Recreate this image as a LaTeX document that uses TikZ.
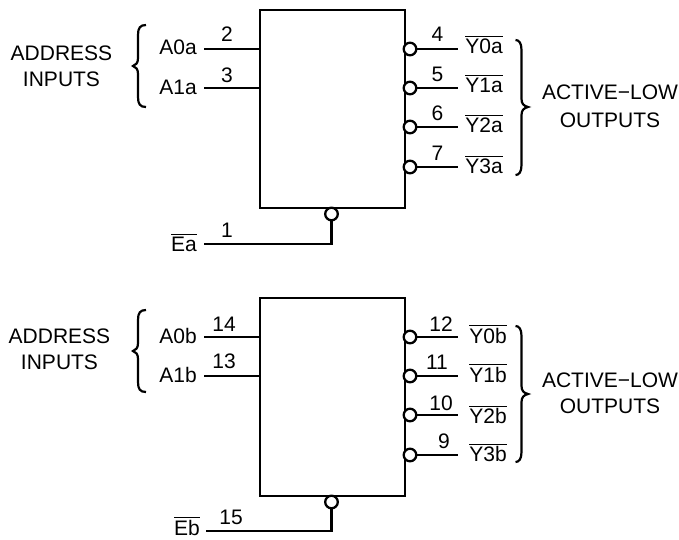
\documentclass[tikz,border=0pt]{standalone}
\usepackage{fontspec}
\setmainfont{Liberation Sans}
\newcommand\ovl[1]{\leavevmode\vbox{\hrule height 0.9pt\kern 1.6pt\hbox{#1}}}
\tikzset{
  x=1pt,y=-1pt,
  wire/.style={line width=2.3pt,line cap=butt,line join=miter},
  chip/.style={wire},
  bub/.style={circle,draw,line width=2.3pt,fill=white,minimum size=12.6pt,inner sep=0pt},
  txt/.style={font=\fontsize{21}{21}\selectfont,inner sep=0pt,anchor=base},
  nm/.style={font=\fontsize{21}{25}\selectfont,inner sep=0pt,anchor=base east},
  brc/.style={line width=2.2pt,line cap=butt}
}
\begin{document}
\begin{tikzpicture}
\useasboundingbox (0,0) rectangle (679,539);
% ----- unit a
\node[chip,draw,minimum width=145pt,minimum height=198pt,inner sep=0pt,anchor=north west] (ca) at (259,9) {};
\node[chip,draw,minimum width=145pt,minimum height=198pt,inner sep=0pt,anchor=north west] (cb) at (259,297) {};
% inputs a
\node[nm] (a0a) at (197,54) {A0a};
\node[nm] (a1a) at (197,94) {A1a};
\coordinate (p2) at (204,49); \coordinate (p3) at (204,88);
\draw[wire] (p2) -- (p2 -| ca.west);
\draw[wire] (p3) -- (p3 -| ca.west);
\node[txt] (n2) at (227,41) {2};
\node[txt] (n3) at (227,82) {3};
% enable a
\node[bub] (ea) at (331.5,214) {};
\node[nm] (lea) at (197,251) {\ovl{Ea}};
\coordinate (pea) at (204,244);
\draw[wire] (pea) -| (ea.south);
\node[txt] (n1) at (227,237) {1};
% outputs a
\foreach \nm/\lab/\y/\ny/\by in {4/Y0a/49/41/53.5, 5/Y1a/88/81/92, 6/Y2a/127/120.5/132.5, 7/Y3a/167/160/173}{
  \node[bub] (ba\nm) at (410,\y) {};
  \coordinate (ea\nm) at (458,\y);
  \draw[wire] (ba\nm) -- (ea\nm);
  \node[txt] (na\nm) at (437.5,\ny) {\nm};
  \node[nm,anchor=base] (la\nm) at (484,\by) {\ovl{\lab}};
}
% inputs b
\node[nm] (a0b) at (197,343) {A0b};
\node[nm] (a1b) at (197,382) {A1b};
\coordinate (p14) at (204,337); \coordinate (p13) at (204,376);
\draw[wire] (p14) -- (p14 -| cb.west);
\draw[wire] (p13) -- (p13 -| cb.west);
\node[txt] (n14) at (224,331) {14};
\node[txt] (n13) at (224,368) {13};
% enable b
\node[bub] (eb) at (331.5,502) {};
\node[nm] (leb) at (200,535) {\ovl{Eb}};
\coordinate (peb) at (206,531);
\draw[wire] (peb) -| (eb.south);
\node[txt] (n15) at (231,524) {15};
% outputs b
\foreach \nm/\lab/\y/\ny/\by/\nx in {12/Y0b/337/331/343/441, 11/Y1b/376/369/382/437, 10/Y2b/415/410/423.5/441, 9/Y3b/455/448/461.5/444}{
  \node[bub] (bb\nm) at (410,\y) {};
  \coordinate (eb\nm) at (458,\y);
  \draw[wire] (bb\nm) -- (eb\nm);
  \node[txt] (nb\nm) at (\nx,\ny) {\nm};
  \node[nm,anchor=base] (lb\nm) at (488,\by) {\ovl{\lab}};
}
% group labels
\node[txt] (ad1) at (61.5,60) {ADDRESS};
\node[txt] (in1) at (61.5,86) {INPUTS};
\node[txt] (ad2) at (59.5,343) {ADDRESS};
\node[txt] (in2) at (59.5,369) {INPUTS};
\node[txt] (ac1) at (610,99) {ACTIVE−LOW};
\node[txt] (ou1) at (610,127) {OUTPUTS};
\node[txt] (ac2) at (610,387) {ACTIVE−LOW};
\node[txt] (ou2) at (610,413) {OUTPUTS};
% braces
\foreach \yc/\h in {66/41, 351/41}{
  \draw[brc] (146,\yc-\h) .. controls (140,\yc-\h) and (138,\yc-\h+3) .. (138,\yc-\h+10) -- (138,\yc-8) .. controls (138,\yc-3) and (136,\yc-1) .. (133,\yc) .. controls (136,\yc+1) and (138,\yc+3) .. (138,\yc+8) -- (138,\yc+\h-10) .. controls (138,\yc+\h-3) and (140,\yc+\h) .. (146,\yc+\h);
}
\foreach \yc/\ha/\hb in {107/67/68, 394/68/68}{
  \draw[brc] (515.5,\yc-\ha) .. controls (519,\yc-\ha) and (521.5,\yc-\ha+3) .. (521.5,\yc-\ha+10) -- (521.5,\yc-8) .. controls (521.5,\yc-3) and (524,\yc-1) .. (528,\yc) .. controls (524,\yc+1) and (521.5,\yc+3) .. (521.5,\yc+8) -- (521.5,\yc+\hb-10) .. controls (521.5,\yc+\hb-3) and (519,\yc+\hb) .. (515.5,\yc+\hb);
}
\end{tikzpicture}
\end{document}
